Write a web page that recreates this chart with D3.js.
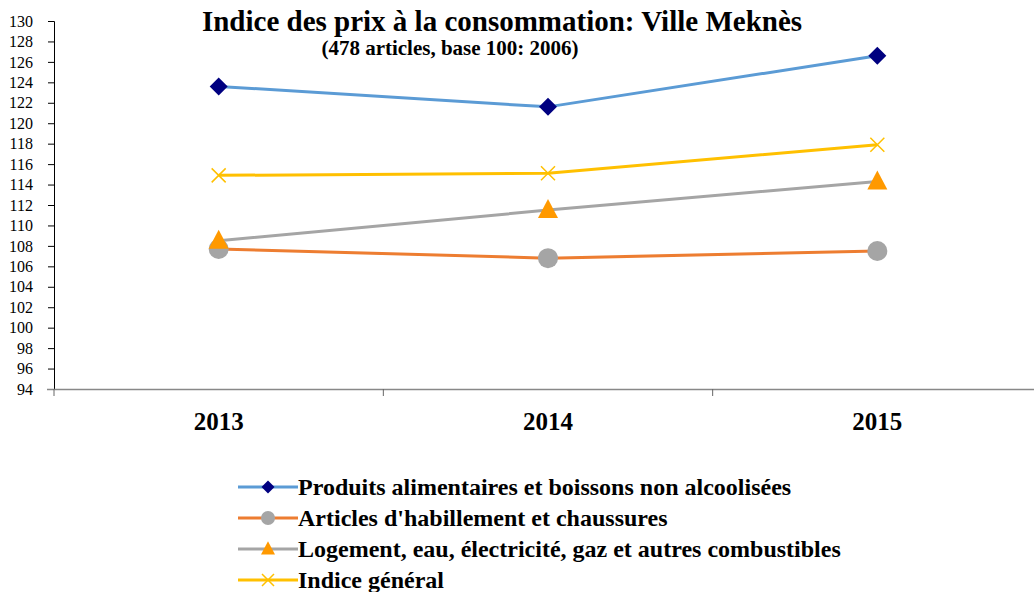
<!DOCTYPE html>
<html>
<head>
<meta charset="utf-8">
<script src="https://cdn.jsdelivr.net/npm/d3@7"></script>
<style>
  body { margin: 0; background: #fff; }
  svg text { font-family: "Liberation Serif", "Times New Roman", serif; }
</style>
</head>
<body>
<div id="chart"></div>
<script>
// CPI lines: Meknès, 2013-2015

const years = ["2013", "2014", "2015"];
const seriesNames = [
    "Produits alimentaires et boissons non alcoolisées",
    "Articles d'habillement et chaussures",
    "Logement, eau, électricité, gaz et autres combustibles",
    "Indice général"
];
const alimentaires = [123.6, 121.6, 126.6];
const habillement = [107.7, 106.8, 107.5];
const logement = [108.5, 111.5, 114.3];
const general = [114.9, 115.1, 117.9];
const yTicks = d3.range(94, 131, 2);

const width = 1034, height = 592;

const svg = d3.select("#chart")
    .append("svg")
    .attr("width", width)
    .attr("height", height);

const x = d3.scaleBand().domain(years).range([54, 1042]);
const y = d3.scaleLinear().domain([94, 130]).range([389, 21]);

const series = [
    { name: seriesNames[0], values: alimentaires, line: "#5B9BD5", marker: "diamond", fill: "#000080" },
    { name: seriesNames[1], values: habillement, line: "#ED7D31", marker: "circle", fill: "#A5A5A5" },
    { name: seriesNames[2], values: logement, line: "#A5A5A5", marker: "triangle", fill: "#FF9900" },
    { name: seriesNames[3], values: general, line: "#FFC000", marker: "x", fill: "#FFC000" }
];

// y axis
const yAxis = svg.append("g")
    .attr("transform", "translate(54,0)")
    .call(d3.axisLeft(y).tickValues(yTicks).tickSize(6).tickPadding(15));
yAxis.select(".domain").attr("stroke", "#000");
yAxis.selectAll(".tick line").attr("stroke", "#000");
yAxis.selectAll("text").style("font-size", "16px").attr("fill", "#000");

// x axis
const xAxis = svg.append("g")
    .attr("transform", "translate(0,389)")
    .call(d3.axisBottom(x).tickSize(0).tickPadding(0));
xAxis.select(".domain").attr("stroke", "#888").attr("stroke-width", 1.3).attr("d", "M47,0.5H1034");
xAxis.selectAll(".tick text")
    .attr("y", 41)
    .attr("dy", 0)
    .style("font-size", "25px")
    .style("font-weight", "bold")
    .attr("fill", "#000");
xAxis.selectAll(".sep")
    .data(years)
    .enter()
    .append("line")
    .attr("x1", d => x(d))
    .attr("x2", d => x(d))
    .attr("y1", 0)
    .attr("y2", 7)
    .attr("stroke", "#666");

function drawMarker(g, type, fill, cx, cy, s) {
    if (type === "diamond") {
        g.append("path")
            .attr("d", `M${cx},${cy - s}L${cx + s},${cy}L${cx},${cy + s}L${cx - s},${cy}Z`)
            .attr("fill", fill);
    } else if (type === "circle") {
        g.append("circle").attr("cx", cx).attr("cy", cy).attr("r", s).attr("fill", fill);
    } else if (type === "triangle") {
        g.append("path")
            .attr("d", `M${cx},${cy - s * 1.1}L${cx + s},${cy + s * 0.8}L${cx - s},${cy + s * 0.8}Z`)
            .attr("fill", fill);
    } else {
        g.append("path")
            .attr("d", `M${cx - s},${cy - s}L${cx + s},${cy + s}M${cx - s},${cy + s}L${cx + s},${cy - s}`)
            .attr("stroke", fill)
            .attr("stroke-width", 1.5);
    }
}

const markerSize = { diamond: 9, circle: 10, triangle: 10, x: 7 };

const line = d3.line()
    .x((d, i) => x(years[i]) + x.bandwidth() / 2)
    .y(d => y(d));

series.forEach(s => {
    const g = svg.append("g");
    g.append("path")
        .attr("d", line(s.values))
        .attr("fill", "none")
        .attr("stroke", s.line)
        .attr("stroke-width", 3);
    s.values.forEach((v, i) => {
        drawMarker(g, s.marker, s.fill, x(years[i]) + x.bandwidth() / 2, y(v), markerSize[s.marker]);
    });
});

// titles
svg.append("text")
    .attr("x", 502)
    .attr("y", 31)
    .attr("text-anchor", "middle")
    .style("font-size", "29px")
    .style("font-weight", "bold")
    .text("Indice des prix à la consommation: Ville Meknès");
svg.append("text")
    .attr("x", 450)
    .attr("y", 55)
    .attr("text-anchor", "middle")
    .style("font-size", "21px")
    .style("font-weight", "bold")
    .text("(478 articles, base 100: 2006)");

// legend
const legend = svg.append("g").attr("transform", "translate(238,487)");
const legendSize = { diamond: 6.5, circle: 7, triangle: 7, x: 6 };
series.forEach((s, i) => {
    const row = legend.append("g").attr("transform", `translate(0,${i * 31})`);
    row.append("line")
        .attr("x1", 0).attr("x2", 60)
        .attr("y1", 0).attr("y2", 0)
        .attr("stroke", s.line)
        .attr("stroke-width", 3);
    drawMarker(row, s.marker, s.fill, 30, 0, legendSize[s.marker]);
    row.append("text")
        .attr("x", 60)
        .attr("y", 8)
        .style("font-size", "24px")
        .style("font-weight", "bold")
        .text(s.name);
});
</script>
</body>
</html>
